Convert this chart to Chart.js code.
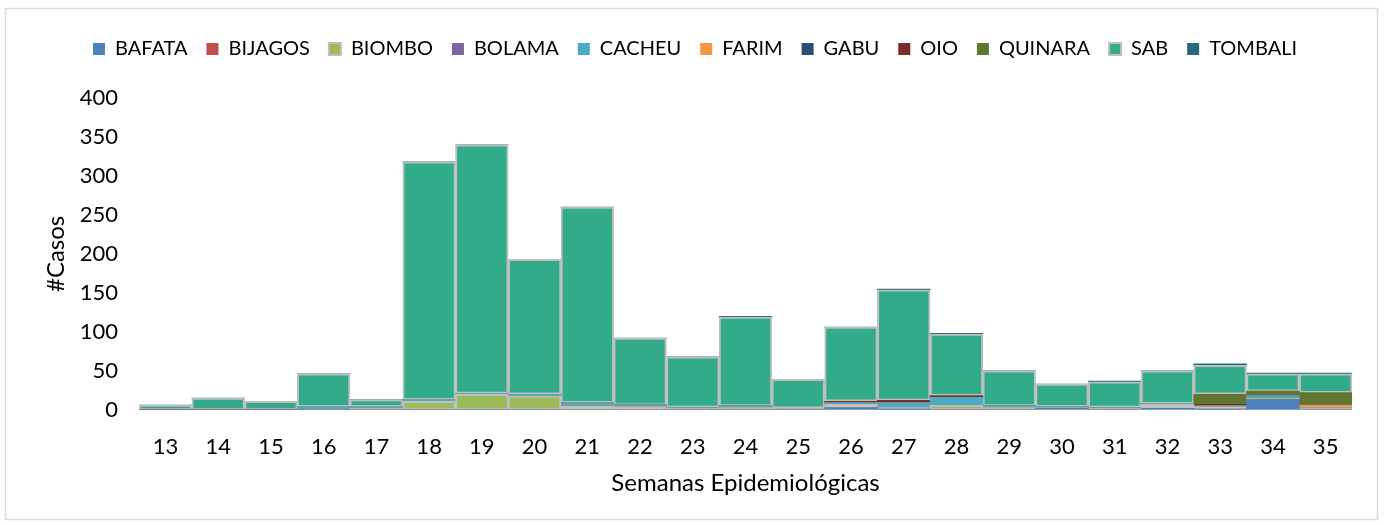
<!DOCTYPE html>
<html>
<head>
<meta charset="utf-8">
<script src="https://cdn.jsdelivr.net/npm/chart.js@4"></script>
<style>
  html, body { margin: 0; padding: 0; background: #fff; }
  #wrap { width: 1384px; height: 525px; }
</style>
</head>
<body>
<div id="wrap"><canvas id="chart" width="1384" height="525"></canvas></div>
<script>
const weeks = ['13','14','15','16','17','18','19','20','21','22','23','24','25','26','27','28','29','30','31','32','33','34','35'];

const bafata  = [0,0,0,0,0,0,0,0,0,0,0,0,0,3,1,0,0,2,0,2,1,13,0];
const bijagos = [0,0,0,0,0,0,0,0,0,0,0,0,0,0,0,0,0,0,0,0,0,0,0];
const biombo  = [0,0,0,1,2,11,20,18,5,4,2,3,2,4,2,6,3,1,2,5,3,2,2];
const bolama  = [0,0,0,0,0,0,0,0,0,0,0,0,0,0,0,0,0,0,0,0,0,0,0];
const cacheu  = [0,0,0,3,2,2,1,2,4,2,1,2,0,2,6,10,2,1,1,1,1,3,1];
const farim   = [0,0,0,0,0,0,0,0,0,0,0,0,0,0,0,0,0,0,0,0,0,0,3];
const gabu    = [0,0,0,0,0,0,0,0,0,0,0,0,0,0,0,0,0,0,0,0,0,0,0];
const oio     = [0,0,0,0,0,0,0,0,0,0,0,0,0,2,3,2,0,0,0,0,2,0,0];
const quinara = [0,0,0,0,0,0,0,0,0,0,0,0,0,0,0,0,0,0,0,0,13,6,16];
const sab     = [6,15,11,42,9,305,319,173,251,86,65,114,37,95,142,79,45,29,33,42,37,22,24];
const tombali = [0,0,0,0,0,0,0,0,0,0,0,1,0,0,1,1,0,0,1,0,2,1,1];

const yTicks = [0,50,100,150,200,250,300,350,400];

const series = [
  { label: 'BAFATA',  data: bafata,  color: '#4f81bd' },
  { label: 'BIJAGOS', data: bijagos, color: '#c0504d' },
  { label: 'BIOMBO',  data: biombo,  color: '#9bbb59', edge: true },
  { label: 'BOLAMA',  data: bolama,  color: '#8064a2' },
  { label: 'CACHEU',  data: cacheu,  color: '#4bacc6' },
  { label: 'FARIM',   data: farim,   color: '#f79646' },
  { label: 'GABU',    data: gabu,    color: '#2c4d75' },
  { label: 'OIO',     data: oio,     color: '#772c2a' },
  { label: 'QUINARA', data: quinara, color: '#5f7530' },
  { label: 'SAB',     data: sab,     color: '#32ab8a', edge: true },
  { label: 'TOMBALI', data: tombali, color: '#276a7c' }
];

const fontFamily = 'Lato, "Open Sans", sans-serif';

// light grey frame around the whole chart
const framePlugin = {
  id: 'frame',
  beforeDraw(chart) {
    const ctx = chart.ctx;
    ctx.save();
    ctx.fillStyle = '#fff';
    ctx.fillRect(0, 0, chart.width, chart.height);
    ctx.strokeStyle = '#d9d9d9';
    ctx.lineWidth = 1.5;
    ctx.strokeRect(5.5, 8.5, chart.width - 12, chart.height - 14);
    ctx.restore();
  }
};

// extra room under the legend
const legendGap = {
  id: 'legendGap',
  beforeInit(chart) {
    const fit = chart.legend.fit;
    chart.legend.fit = function () {
      fit.bind(chart.legend)();
      this.height += 29;
    };
  }
};

new Chart(document.getElementById('chart'), {
  type: 'bar',
  data: {
    labels: weeks,
    datasets: series.map(s => ({
      label: s.label,
      data: s.data,
      backgroundColor: s.color,
      borderColor: s.edge ? '#bfbfbf' : s.color,
      borderWidth: s.edge ? 2 : 0,
      borderSkipped: false,
      barPercentage: 1,
      categoryPercentage: 1
    }))
  },
  options: {
    responsive: false,
    animation: false,
    layout: { padding: { top: 20, left: 38, right: 32, bottom: 27 } },
    plugins: {
      legend: {
        position: 'top',
        labels: {
          boxWidth: 12,
          boxHeight: 12,
          padding: 19,
          color: '#000',
          font: { family: fontFamily, size: 20 }
        }
      },
      tooltip: { enabled: false }
    },
    scales: {
      x: {
        stacked: true,
        grid: { display: false },
        border: { display: false },
        ticks: { color: '#000', font: { family: fontFamily, size: 22 }, padding: 16 },
        title: {
          display: true,
          text: 'Semanas Epidemiológicas',
          color: '#000',
          font: { family: fontFamily, size: 24 },
          padding: { top: -7, bottom: 0 }
        }
      },
      y: {
        stacked: true,
        min: 0,
        max: 400,
        grid: { display: false },
        border: { display: false },
        afterBuildTicks(axis) { axis.ticks = yTicks.map(v => ({ value: v })); },
        ticks: { color: '#000', font: { family: fontFamily, size: 22 }, padding: 13 },
        title: {
          display: true,
          text: '#Casos',
          color: '#000',
          font: { family: fontFamily, size: 24 },
          padding: { top: 4, bottom: -4 }
        }
      }
    }
  },
  plugins: [framePlugin, legendGap]
});
</script>
</body>
</html>
